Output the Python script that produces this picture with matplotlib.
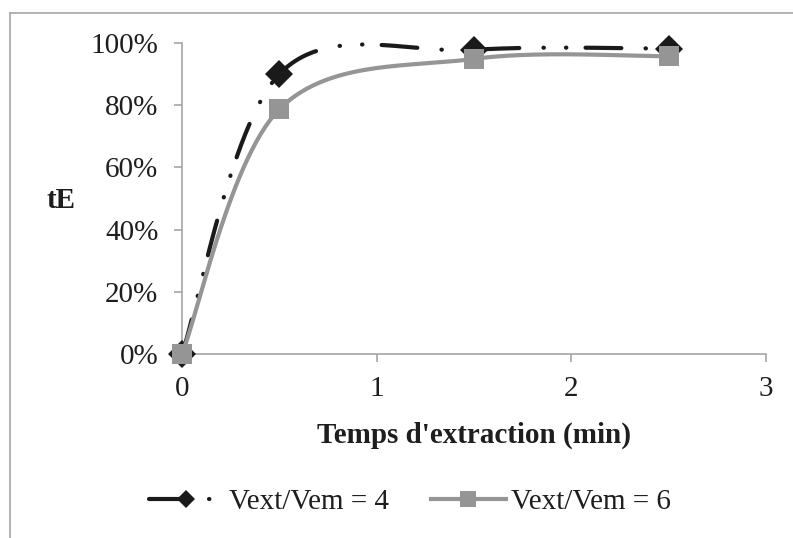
import numpy as np
import matplotlib
matplotlib.use("Agg")
import matplotlib.pyplot as plt
from matplotlib.lines import Line2D
from matplotlib.ticker import FuncFormatter

# data
temps = [0, 0.5, 1.5, 2.5]
te_v4 = [0.0, 0.90, 0.978, 0.982]
te_v6 = [0.0, 0.787, 0.949, 0.957]
labels = ["Vext/Vem = 4", "Vext/Vem = 6"]
x_ticks = [0, 1, 2, 3]
y_ticks = [0, 0.2, 0.4, 0.6, 0.8, 1.0]

plt.rcParams['font.family'] = ['Liberation Serif', 'DejaVu Serif']
TXT = '#1e1e1e'
AXC = '#a6a6a6'
FS = 21


def excel_smooth(xs, ys, n=60):
    # bezier smoothing like the "smoothed line" option of spreadsheet charts
    p = np.column_stack([xs, ys]).astype(float)
    ext = np.vstack([p[0], p, p[-1]])
    out = []
    t = np.linspace(0, 1, n)[:, None]
    for i in range(len(p) - 1):
        p0, p1 = ext[i + 1], ext[i + 2]
        c1 = p0 + (ext[i + 2] - ext[i]) / 6.0
        c2 = p1 - (ext[i + 3] - ext[i + 1]) / 6.0
        seg = ((1 - t) ** 3) * p0 + 3 * ((1 - t) ** 2) * t * c1 \
            + 3 * (1 - t) * t ** 2 * c2 + t ** 3 * p1
        out.append(seg if i == 0 else seg[1:])
    seg = np.vstack(out)
    return seg[:, 0], seg[:, 1]


fig = plt.figure(figsize=(7.93, 5.38), dpi=100)
ax = fig.add_axes([182 / 793, 1 - 354 / 538, (766 - 182) / 793, (354 - 43) / 538])

dash_v4 = (0, (8.6, 5.8, 0.1, 5.3, 0.1, 4.6))

sx, sy = excel_smooth(temps, te_v4)
ax.plot(sx, sy, color='#1a1a1a', lw=3, linestyle=dash_v4,
        dash_capstyle='round', zorder=3, clip_on=False)
ax.plot(temps, te_v4, linestyle='none', marker='D', ms=14,
        color='#1a1a1a', mew=0, zorder=4, clip_on=False)

gx, gy = excel_smooth(temps, te_v6)
ax.plot(gx, gy, color='#959595', lw=3, solid_capstyle='round',
        zorder=5, clip_on=False)
ax.plot(temps, te_v6, linestyle='none', marker='s', ms=14,
        color='#959595', mew=0, zorder=6, clip_on=False)

ax.set_xlim(0, 3)
ax.set_ylim(0, 1)
ax.set_xticks(x_ticks)
ax.set_yticks(y_ticks)
ax.yaxis.set_major_formatter(FuncFormatter(lambda v, pos: f"{v * 100:.0f}%"))

for s in ['top', 'right']:
    ax.spines[s].set_visible(False)
for s in ['left', 'bottom']:
    ax.spines[s].set_color(AXC)
    ax.spines[s].set_linewidth(1.2)
ax.tick_params(axis='both', direction='out', length=6, width=1.2,
               color=AXC, labelsize=FS, labelcolor=TXT)
ax.tick_params(axis='y', pad=11)
ax.tick_params(axis='x', pad=10)

ax.set_xlabel("Temps d'extraction (min)", fontsize=FS, fontweight='bold',
              color=TXT, va='baseline')
ax.xaxis.set_label_coords(0.5, (354 - 443) / 311)
ax.set_ylabel("tE", fontsize=FS, fontweight='bold', color=TXT,
              rotation=0, va='center', ha='center')
ax.yaxis.set_label_coords((61 - 182) / 584, (354 - 201) / 311)

h1 = Line2D([], [], color='#1a1a1a', lw=3, linestyle=dash_v4,
            dash_capstyle='round', marker='D', ms=8.7, mew=0)
h2 = Line2D([], [], color='#959595', lw=3, marker='s', ms=12, mew=0)
leg = fig.legend([h1, h2], labels, loc='center',
                 bbox_to_anchor=(410 / 793, 1 - 502 / 538),
                 ncol=2, frameon=False, fontsize=FS, handlelength=2.55,
                 handletextpad=0.2, columnspacing=1.45, numpoints=1,
                 borderpad=0, borderaxespad=0)
for t in leg.get_texts():
    t.set_color(TXT)

# outer chart frame (only left and top edges fall inside the picture)
fig.add_artist(Line2D([10 / 793, 10 / 793], [0, 1 - 13 / 538],
                      transform=fig.transFigure, color=AXC, lw=1.2))
fig.add_artist(Line2D([10 / 793, 1], [1 - 13 / 538, 1 - 13 / 538],
                      transform=fig.transFigure, color=AXC, lw=1.2))

fig.savefig("out.png", dpi=100)
